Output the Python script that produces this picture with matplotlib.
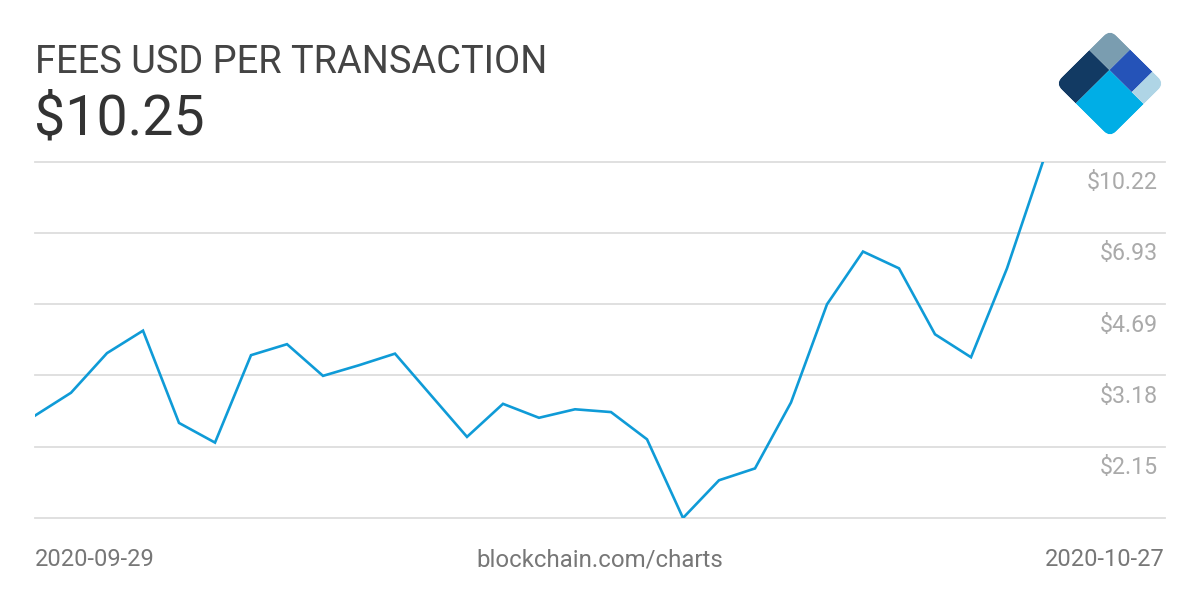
import matplotlib
matplotlib.use("Agg")
import matplotlib.pyplot as plt
import matplotlib.transforms as mtransforms
from matplotlib.patches import FancyBboxPatch, Rectangle
import numpy as np

plt.rcParams["font.family"] = ["Roboto", "DejaVu Sans"]

# daily values, 2020-09-29 .. 2020-10-27
dates = ["2020-09-29", "2020-10-27"]
fees = [2.55, 2.89, 3.59, 4.06, 2.45, 2.20, 3.55, 3.77, 3.17, 3.36,
        3.58, 2.85, 2.27, 2.72, 2.52, 2.64, 2.60, 2.24, 1.456, 1.79,
        1.91, 2.74, 4.69, 6.26, 5.71, 3.98, 3.51, 5.71, 10.25]
grid_vals = [1.456, 2.15, 3.18, 4.69, 6.93, 10.22]
tick_labels = ["$2.15", "$3.18", "$4.69", "$6.93", "$10.22"]
title = "FEES USD PER TRANSACTION"
current = "$10.25"

W, H = 1200, 600
fig = plt.figure(figsize=(12, 6), dpi=100)
fig.patch.set_facecolor("white")

# plot area: x 35..1165 px, y 162..518 px
ax = fig.add_axes([35 / W, 1 - 518 / H, 1130 / W, 356 / H])
x = np.arange(len(fees))
ax.set_yscale("log")
ax.set_ylim(grid_vals[0], grid_vals[-1])
# last point sits at 1043 px, axis runs on to 1165 px
ax.set_xlim(0, (len(fees) - 1) * 1130 / 1008)
for v in grid_vals:
    ax.axhline(v, color="#dddddd", lw=1.3, clip_on=False, zorder=1)
ax.plot(x, fees, color="#0f9bd7", lw=1.9, zorder=3, solid_joinstyle="miter")
ax.set_xticks([])
ax.set_yticks([])
ax.minorticks_off()
for s in ax.spines.values():
    s.set_visible(False)

trans = mtransforms.blended_transform_factory(ax.transAxes, ax.transData)
for v, lab in zip(grid_vals[1:], tick_labels):
    ax.annotate(lab, xy=(1, v), xycoords=trans, xytext=(-5, -15),
                textcoords="offset points", ha="right", va="center",
                fontsize=16.7, color="#aaaaaa")

# header / footer
fig.text(35 / W, 1 - 73 / H, title, fontsize=27.4, color="#444444", va="baseline")
fig.text(34 / W, 1 - 135 / H, current, fontsize=40, color="#333333", va="baseline")
fig.text(35 / W, 1 - 566 / H, dates[0], fontsize=17, color="#777777", va="baseline")
fig.text(1165 / W, 1 - 566 / H, dates[1], fontsize=17, color="#777777",
         va="baseline", ha="right")
fig.text(600 / W, 1 - 566 / H, "blockchain.com/charts", fontsize=17.3,
         color="#777777", va="baseline", ha="center")

# logo, drawn in pixel space
lg = fig.add_axes([0, 0, 1, 1], zorder=5)
lg.set_xlim(0, W)
lg.set_ylim(H, 0)
lg.axis("off")
sq = mtransforms.Affine2D(np.array([[54.5, 54.5, 1055.5],
                                    [-54.0, 54.0, 83.5],
                                    [0, 0, 1]])) + lg.transData
clip = FancyBboxPatch((0, 0), 1, 1, boxstyle="round,pad=0,rounding_size=0.12",
                      transform=sq, facecolor="none", edgecolor="none")
lg.add_patch(clip)
pieces = [((0, 0), 0.62, 0.37, "#123a63"),
          ((0.62, 0), 0.38, 0.37, "#7a9db0"),
          ((0, 0.37), 0.62, 0.63, "#00aee6"),
          ((0.62, 0.37), 0.38, 0.41, "#2553b8"),
          ((0.62, 0.78), 0.38, 0.22, "#afd5e6")]
for xy, w, h, c in pieces:
    r = Rectangle(xy, w, h, transform=sq, facecolor=c, edgecolor="none")
    lg.add_patch(r)
    r.set_clip_path(clip)

fig.savefig("out.png", dpi=100, facecolor="white")
